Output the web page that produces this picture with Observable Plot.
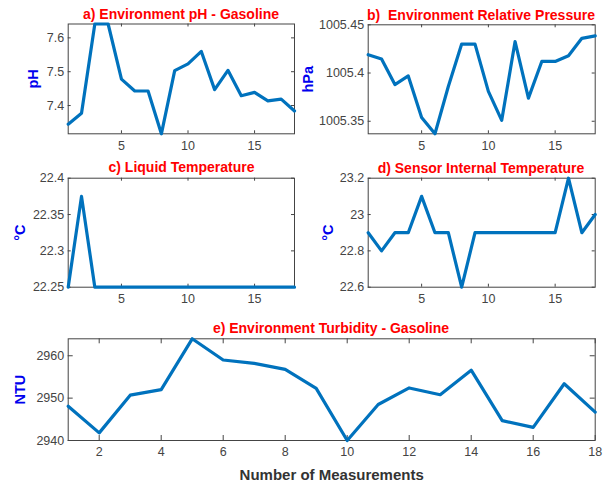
<!DOCTYPE html>
<html><head><meta charset="utf-8">
<script src="https://cdn.jsdelivr.net/npm/d3@7"></script>
<script src="https://cdn.jsdelivr.net/npm/@observablehq/plot@0.6"></script>
<style>
body{margin:0;background:#fff;}
#root{position:relative;width:613px;height:482px;font-family:"Liberation Sans",Arial,sans-serif;overflow:hidden;background:#fff}
.panel{position:absolute}
.title{position:absolute;color:#f00;font-weight:bold;font-size:14px;text-align:center;white-space:pre;line-height:16px;width:300px}
.panel g[aria-label="y-axis label"] text{fill:#0000ee;font-weight:bold;font-size:14.5px}
.panel g[aria-label="x-axis label"] text{fill:#333;font-weight:bold;font-size:15px}
</style>
</head><body>
<div id="root"></div>
<script>
const measurements = [1,2,3,4,5,6,7,8,9,10,11,12,13,14,15,16,17,18];
const phValues = [7.345,7.377,7.641,7.641,7.478,7.443,7.443,7.3165,7.503,7.523,7.56,7.447,7.504,7.429,7.439,7.414,7.419,7.384];
const pressureValues = [1005.419,1005.4145,1005.388,1005.397,1005.354,1005.337,1005.386,1005.430,1005.430,1005.381,1005.351,1005.4326,1005.374,1005.412,1005.412,1005.418,1005.436,1005.4385];
const liquidTempValues = [22.25,22.375,22.25,22.25,22.25,22.25,22.25,22.25,22.25,22.25,22.25,22.25,22.25,22.25,22.25,22.25,22.25,22.25];
const sensorTempValues = [22.9,22.8,22.9,22.9,23.1,22.9,22.9,22.6,22.9,22.9,22.9,22.9,22.9,22.9,22.9,23.2,22.9,23.0];
const turbidityValues = [2948.1,2941.8,2950.7,2952.0,2964.0,2959.0,2958.2,2956.8,2952.3,2940.0,2948.5,2952.4,2950.8,2956.6,2944.7,2943.1,2953.4,2946.7];

const xTicksTop = [5,10,15];
const xTicksBottom = [2,4,6,8,10,12,14,16,18];
const phTicks = [7.4,7.5,7.6];
const pressureTicks = [1005.35,1005.4,1005.45];
const liquidTicks = [22.25,22.3,22.35,22.4];
const sensorTicks = [22.6,22.8,23,23.2];
const turbidityTicks = [2940,2950,2960];

const phDomain = [7.3165,7.641];
const pressureDomain = [1005.337,1005.45];
const liquidDomain = [22.25,22.4];
const sensorDomain = [22.6,23.2];
const turbidityDomain = [2940,2964];

const titles = ["a) Environment pH - Gasoline","b)  Environment Relative Pressure","c) Liquid Temperature","d) Sensor Internal Temperature","e) Environment Turbidity - Gasoline"];
const yLabels = ["pH","hPa","°C","°C","NTU"];
const xLabel = "Number of Measurements";

const root = document.getElementById("root");

function panel(o){
  const fh = o.height - o.mt - o.mb, fw = o.width - o.ml - o.mr;
  const data = measurements.map((m,i)=>({m, v:o.values[i]}));
  const svg = Plot.plot({
    width:o.width, height:o.height,
    marginTop:o.mt, marginBottom:o.mb, marginLeft:o.ml, marginRight:o.mr,
    style:{fontFamily:'"Liberation Sans",Arial,sans-serif',fontSize:"12.5px",color:"#444",background:"transparent",overflow:"visible"},
    x:{domain:[1,18]},
    y:{domain:o.domain},
    marks:[
      Plot.axisX({ticks:o.xTicks,tickSize:0,tickPadding:7,tickFormat:d=>String(d),label:o.xlabel||null,labelAnchor:"center",labelArrow:"none",labelOffset:o.xLabelOffset||30}),
      Plot.axisY({ticks:o.yTicks,tickSize:0,tickPadding:4,tickFormat:d=>String(d),label:o.ylabel,labelAnchor:"center",labelArrow:"none",labelOffset:o.yLabelOffset}),
      Plot.tickX(o.xTicks,{x:d=>d,stroke:"#444",insetTop:fh-o.tl}),
      Plot.tickX(o.xTicks,{x:d=>d,stroke:"#444",insetBottom:fh-o.tl}),
      Plot.tickY(o.yTicks,{y:d=>d,stroke:"#444",insetRight:fw-o.tl}),
      Plot.tickY(o.yTicks,{y:d=>d,stroke:"#444",insetLeft:fw-o.tl}),
      Plot.frame({stroke:"#444"}),
      Plot.line(data,{x:"m",y:"v",stroke:"#0072BD",strokeWidth:3.2})
    ]
  });
  const div = document.createElement("div");
  div.className="panel";
  div.style.left=o.left+"px"; div.style.top=o.top+"px";
  div.appendChild(svg);
  root.appendChild(div);
}
function title(text,cx,cy){
  const d=document.createElement("div");
  d.className="title";
  d.textContent=text;
  d.style.left=(cx-150)+"px";
  d.style.top=(cy-8)+"px";
  root.appendChild(d);
}

panel({left:0,top:0,width:300,height:160,mt:23.5,mb:26.7,ml:67.7,mr:6,values:phValues,domain:phDomain,yTicks:phTicks,xTicks:xTicksTop,ylabel:yLabels[0],yLabelOffset:40,tl:3});
panel({left:300,top:0,width:313,height:160,mt:24.3,mb:26.7,ml:67.7,mr:18.3,values:pressureValues,domain:pressureDomain,yTicks:pressureTicks,xTicks:xTicksTop,ylabel:yLabels[1],yLabelOffset:65,tl:3});
panel({left:0,top:150,width:300,height:165,mt:27.7,mb:28.3,ml:67.7,mr:6,values:liquidTempValues,domain:liquidDomain,yTicks:liquidTicks,xTicks:xTicksTop,ylabel:yLabels[2],yLabelOffset:53,tl:3});
panel({left:300,top:150,width:313,height:165,mt:27.7,mb:28.3,ml:67.7,mr:18.3,values:sensorTempValues,domain:sensorDomain,yTicks:sensorTicks,xTicks:xTicksTop,ylabel:yLabels[3],yLabelOffset:45,tl:3});
panel({left:0,top:310,width:613,height:172,mt:28.3,mb:42,ml:67.7,mr:18.3,values:turbidityValues,domain:turbidityDomain,yTicks:turbidityTicks,xTicks:xTicksBottom,ylabel:yLabels[4],yLabelOffset:53,xlabel:xLabel,xLabelOffset:39,tl:5});

title(titles[0],181,14.3);
title(titles[1],481,14.8);
title(titles[2],181.5,167.3);
title(titles[3],481,168);
title(titles[4],331,328.3);
</script>
</body></html>
